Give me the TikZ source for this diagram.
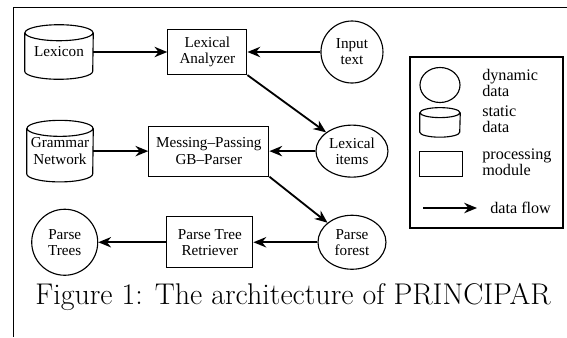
\documentclass[tikz,border=0pt]{standalone}
\usepackage{fontspec}
\newfontfamily\timesfont[Ligatures=TeX]{Liberation Serif}
\usepackage{tikz}
\usetikzlibrary{shapes.geometric, arrows.meta, positioning}

\begin{document}
\begin{tikzpicture}[
    node distance=1cm and 1.5cm,
    module/.style={rectangle, draw=black, line width=0.8pt, inner sep=1pt,
                   align=center, font=\timesfont\fontsize{10.8}{11.5}\selectfont},
    dyndata/.style={ellipse, draw=black, line width=0.8pt, inner sep=0pt,
                    align=center, font=\timesfont\fontsize{10.8}{11.5}\selectfont},
    statdata/.style={rectangle, inner sep=0pt,
                     align=center, font=\timesfont\fontsize{10.8}{11.5}\selectfont},
    key/.style={anchor=west, inner sep=0pt, align=left,
                font=\timesfont\fontsize{11.5}{11}\selectfont},
    flow/.style={-{Stealth[length=3.2mm, width=2.6mm]}, line width=1.3pt},
]
\useasboundingbox (0,0) rectangle (14.175,-8.425);

%% Frame
\draw[line width=0.5pt] (0.325,-8.425) |- (14.175,-0.175);

%% Top row: lexical analysis
\node[statdata, minimum width=1.7cm, minimum height=0.95cm] (lexicon) at (1.475,-1.3) {Lexicon};
\node[module, minimum width=1.975cm, minimum height=1.125cm, right=1.85cm of lexicon] (lexan) {Lexical\\Analyzer};
\node[dyndata, minimum size=1.55cm, right=1.825cm of lexan] (input) {Input\\text};

%% Middle row: parsing
\node[dyndata, minimum width=1.8cm, minimum height=1.3cm, below=1.025cm of input] (items) {Lexical\\items};
\node[module, minimum width=3cm, minimum height=1.25cm, left=1.15cm of items] (parser) {Messing--Passing\\GB--Parser};
\node[statdata, minimum width=1.65cm, minimum height=1.125cm, left=1.375cm of parser] (grammar) {Grammar\\Network};

%% Bottom row: retrieval
\node[dyndata, minimum width=1.7cm, minimum height=1.35cm, below=0.925cm of items] (forest) {Parse\\forest};
\node[module, minimum width=2.15cm, minimum height=1.275cm, left=1.6cm of forest] (retriever) {Parse Tree\\Retriever};
\node[dyndata, minimum size=1.65cm, left=1.7cm of retriever] (trees) {Parse\\Trees};

%% Data flow
\draw[flow] (lexicon) -- (lexan);
\draw[flow] (input) -- (lexan);
\draw[flow] (lexan.south east) -- (items.north west);
\draw[flow] (grammar) -- (parser);
\draw[flow] (items) -- (parser);
\draw[flow] (parser.south east) -- (forest.north west);
\draw[flow] (forest) -- (retriever);
\draw[flow] (retriever) -- (trees);

%% Legend
\node[draw=black, line width=0.8pt, minimum width=3.825cm, minimum height=4.275cm] (legend) at (12.1625,-3.5625) {};
\node[dyndata, minimum width=1cm, minimum height=0.875cm] (keydyn) at (11,-2.125) {};
\node[key] (keydyntext) at (12.05,-2.075) {dynamic\\data};
\node[statdata, minimum width=1cm, minimum height=0.475cm] (keystat) at (11,-3.06) {};
\node[key] (keystattext) at (12.05,-2.975) {static\\data};
\node[module, minimum width=1.075cm, minimum height=0.625cm] (keymod) at (11.025,-4.1) {};
\node[key] (keymodtext) at (12.05,-4.05) {processing\\module};
\coordinate (keyfrom) at (10.575,-5.2);
\coordinate (keyto) at (11.925,-5.2);
\draw[flow] (keyfrom) -- (keyto);
\node[key] (keyflowtext) at (12.25,-5.2) {data flow};

%% Cylinder outlines round the static data
\foreach \cyl/\rx/\ry in {lexicon/0.85/0.2, grammar/0.825/0.2, keystat/0.5/0.125}
  \draw[line width=0.8pt] (\cyl.north) ellipse[x radius=\rx, y radius=\ry]
    (\cyl.north west) -- (\cyl.south west)
    arc[start angle=180, end angle=360, x radius=\rx, y radius=\ry]
    -- (\cyl.north east);

%% Caption
\node[font=\fontsize{21.3}{25}\selectfont] (caption) at (7.325,-7.43) {Figure 1: The architecture of PRINCIPAR};

\end{tikzpicture}
\end{document}
